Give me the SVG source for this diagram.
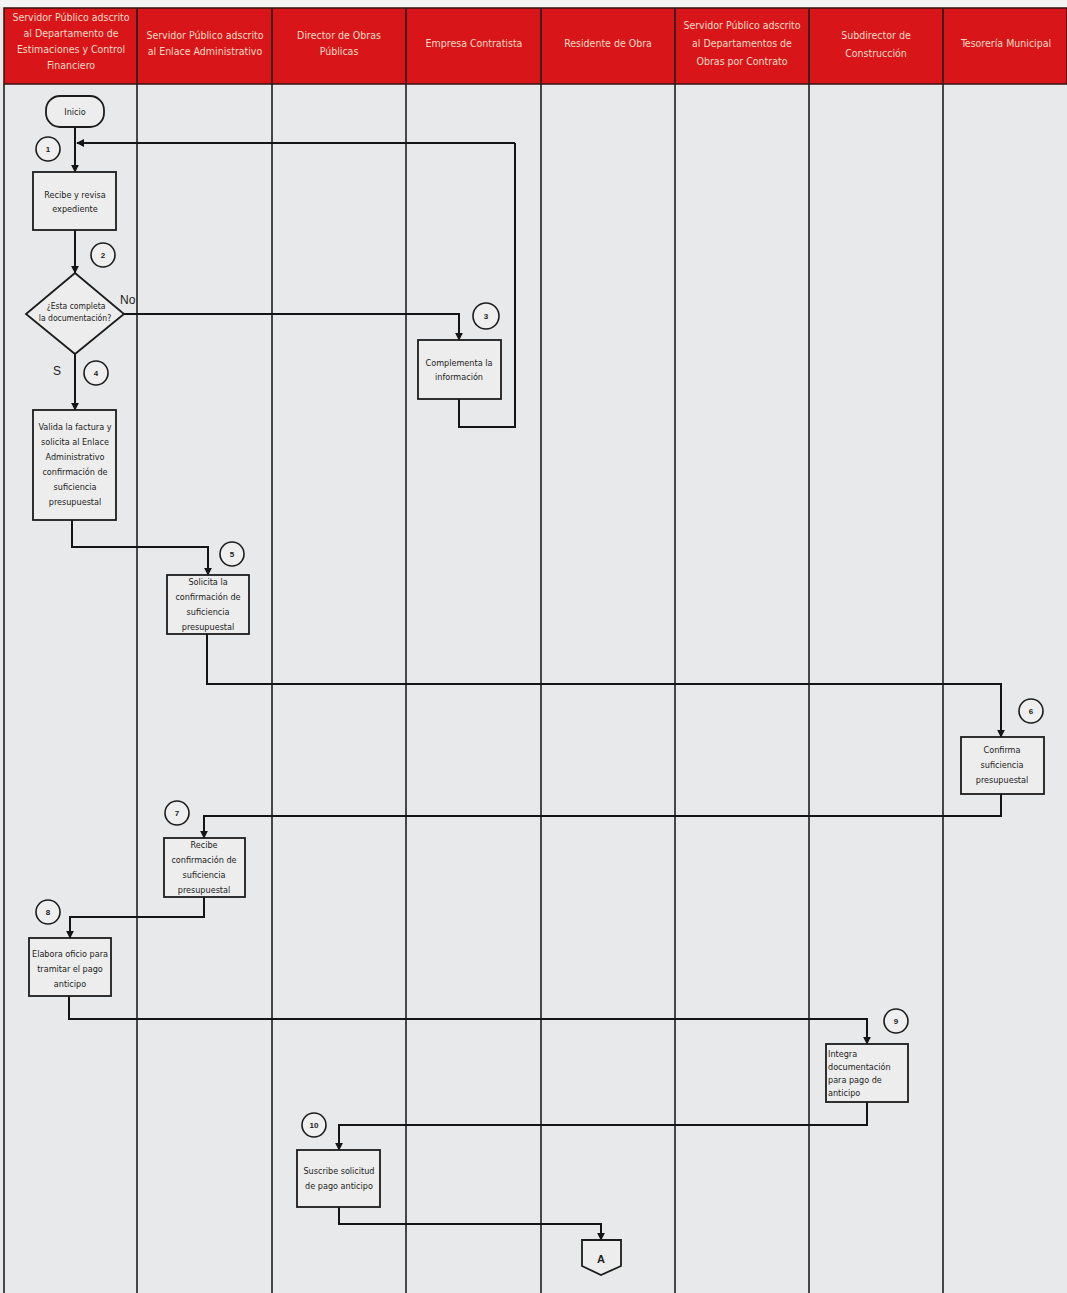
<svg xmlns="http://www.w3.org/2000/svg" width="1067" height="1293" viewBox="0 0 1067 1293">
<style>
.hd{font-family:"Liberation Sans Narrow","DejaVu Sans Condensed","Liberation Sans",sans-serif;font-size:10.5px;fill:#f7d9c4;text-anchor:middle}
.lane{stroke:#1e1e1e;stroke-width:1.6;fill:none}
.box{fill:#ededed;stroke:#1c1c1c;stroke-width:1.8}
.t{font-family:"Liberation Sans Narrow","DejaVu Sans Condensed","Liberation Sans",sans-serif;font-size:9px;fill:#222;text-anchor:middle}
.tl{font-family:"Liberation Sans Narrow","DejaVu Sans Condensed","Liberation Sans",sans-serif;font-size:9px;fill:#222}
.num{fill:#efefef;stroke:#1c1c1c;stroke-width:1.6}
.nt{font-family:"Liberation Sans","Arial",sans-serif;font-size:8px;font-weight:bold;fill:#222;text-anchor:middle}
.lbl{font-family:"Liberation Sans","Arial",sans-serif;font-size:12px;fill:#222}
.c{fill:none;stroke:#151515;stroke-width:2;marker-end:url(#ah)}
.cn{fill:none;stroke:#151515;stroke-width:2}
</style>
<defs>
<marker id="ah" viewBox="0 0 10 10" refX="9" refY="5" markerWidth="4" markerHeight="4" orient="auto" markerUnits="strokeWidth">
<path d="M0,0 L10,5 L0,10 z" fill="#151515"/>
</marker>
</defs>
<rect x="0" y="0" width="1067" height="1293" fill="#e8e9ea"/>
<rect x="0" y="0" width="1067" height="7" fill="#f4f4f4"/>
<g id="header">
<rect x="4" y="8" width="1063" height="76" fill="#d8161a" stroke="#3a1010" stroke-width="1.5"/>
<g class="lane">
<line x1="137" y1="8" x2="137" y2="84"/><line x1="272" y1="8" x2="272" y2="84"/><line x1="406" y1="8" x2="406" y2="84"/><line x1="541" y1="8" x2="541" y2="84"/><line x1="675" y1="8" x2="675" y2="84"/><line x1="809" y1="8" x2="809" y2="84"/><line x1="943" y1="8" x2="943" y2="84"/>
</g>
<text class="hd" x="71" y="21">Servidor Público adscrito</text>
<text class="hd" x="71" y="37">al Departamento de</text>
<text class="hd" x="71" y="53">Estimaciones y Control</text>
<text class="hd" x="71" y="69">Financiero</text>
<text class="hd" x="205" y="39">Servidor Público adscrito</text>
<text class="hd" x="205" y="55">al Enlace Administrativo</text>
<text class="hd" x="339" y="39">Director de Obras</text>
<text class="hd" x="339" y="55">Públicas</text>
<text class="hd" x="474" y="47">Empresa Contratista</text>
<text class="hd" x="608" y="47">Residente de Obra</text>
<text class="hd" x="742" y="29">Servidor Público adscrito</text>
<text class="hd" x="742" y="47">al Departamentos de</text>
<text class="hd" x="742" y="65">Obras por Contrato</text>
<text class="hd" x="876" y="39">Subdirector de</text>
<text class="hd" x="876" y="57">Construcción</text>
<text class="hd" x="1006" y="47">Tesorería Municipal</text>
</g>
<g id="lanes" class="lane">
<line x1="4" y1="84" x2="4" y2="1293"/>
<line x1="137" y1="84" x2="137" y2="1293"/>
<line x1="272" y1="84" x2="272" y2="1293"/>
<line x1="406" y1="84" x2="406" y2="1293"/>
<line x1="541" y1="84" x2="541" y2="1293"/>
<line x1="675" y1="84" x2="675" y2="1293"/>
<line x1="809" y1="84" x2="809" y2="1293"/>
<line x1="943" y1="84" x2="943" y2="1293"/>
</g>
<g id="connectors">
<path class="c" d="M75,127 V172"/>
<path class="c" d="M515,143 H77"/>
<path class="cn" d="M459,399 V427 H515 V143"/>
<path class="c" d="M75,230 V273"/>
<path class="c" d="M124,314 H459 V340"/>
<path class="c" d="M75,354 V410"/>
<path class="c" d="M72,520 V547 H208 V575"/>
<path class="c" d="M207,634 V684 H1001 V737"/>
<path class="c" d="M1001,794 V816 H204 V838"/>
<path class="c" d="M204,897 V917 H70 V938"/>
<path class="c" d="M69,996 V1019 H867 V1044"/>
<path class="c" d="M867,1102 V1125 H339 V1150"/>
<path class="c" d="M339,1207 V1224 H601 V1240"/>
</g>
<g id="inicio">
<rect class="box" x="46" y="96" width="58" height="31" rx="14"/>
<text class="t" x="75" y="115">Inicio</text>
</g>
<g id="n1">
<circle class="num" cx="48" cy="149" r="12"/><text class="nt" x="48" y="152">1</text>
<rect class="box" x="33" y="172" width="83" height="58"/>
<text class="t" x="75" y="198">Recibe y revisa</text>
<text class="t" x="75" y="212">expediente</text>
</g>
<g id="n2">
<circle class="num" cx="103" cy="255" r="12"/><text class="nt" x="103" y="258">2</text>
<path class="box" d="M75,273 L124,314 L75,354 L26,314 Z"/>
<text class="t" x="76" y="309" style="font-size:8.5px">¿Esta completa</text>
<text class="t" x="75" y="321" style="font-size:8.5px">la documentación?</text>
<text class="lbl" x="120" y="304">No</text>
<text class="lbl" x="53" y="375">S</text>
</g>
<g id="n3">
<circle class="num" cx="486" cy="316" r="13"/><text class="nt" x="486" y="319">3</text>
<rect class="box" x="418" y="340" width="83" height="59"/>
<text class="t" x="459" y="366">Complementa la</text>
<text class="t" x="459" y="380">información</text>
</g>
<g id="n4">
<circle class="num" cx="96" cy="373" r="12"/><text class="nt" x="96" y="376">4</text>
<rect class="box" x="33" y="410" width="83" height="110"/>
<text class="t" x="75" y="430">Valida la factura y</text>
<text class="t" x="75" y="445">solicita al Enlace</text>
<text class="t" x="75" y="460">Administrativo</text>
<text class="t" x="75" y="475">confirmación de</text>
<text class="t" x="75" y="490">suficiencia</text>
<text class="t" x="75" y="505">presupuestal</text>
</g>
<g id="n5">
<circle class="num" cx="232" cy="554" r="12"/><text class="nt" x="232" y="557">5</text>
<rect class="box" x="167" y="575" width="82" height="59"/>
<text class="t" x="208" y="585">Solicita la</text>
<text class="t" x="208" y="600">confirmación de</text>
<text class="t" x="208" y="615">suficiencia</text>
<text class="t" x="208" y="630">presupuestal</text>
</g>
<g id="n6">
<circle class="num" cx="1031" cy="711" r="12"/><text class="nt" x="1031" y="714">6</text>
<rect class="box" x="961" y="737" width="83" height="57"/>
<text class="t" x="1002" y="753">Confirma</text>
<text class="t" x="1002" y="768">suficiencia</text>
<text class="t" x="1002" y="783">presupuestal</text>
</g>
<g id="n7">
<circle class="num" cx="177" cy="813" r="12"/><text class="nt" x="177" y="816">7</text>
<rect class="box" x="164" y="838" width="81" height="59"/>
<text class="t" x="204" y="848">Recibe</text>
<text class="t" x="204" y="863">confirmación de</text>
<text class="t" x="204" y="878">suficiencia</text>
<text class="t" x="204" y="893">presupuestal</text>
</g>
<g id="n8">
<circle class="num" cx="48" cy="912" r="12"/><text class="nt" x="48" y="915">8</text>
<rect class="box" x="29" y="938" width="82" height="58"/>
<text class="t" x="70" y="957">Elabora oficio para</text>
<text class="t" x="70" y="972">tramitar el pago</text>
<text class="t" x="70" y="987">anticipo</text>
</g>
<g id="n9">
<circle class="num" cx="896" cy="1021" r="12"/><text class="nt" x="896" y="1024">9</text>
<rect class="box" x="826" y="1044" width="82" height="58"/>
<text class="tl" x="828" y="1057">Integra</text>
<text class="tl" x="828" y="1070">documentación</text>
<text class="tl" x="828" y="1083">para pago de</text>
<text class="tl" x="828" y="1096">anticipo</text>
</g>
<g id="n10">
<circle class="num" cx="314" cy="1125" r="12"/><text class="nt" x="314" y="1128">10</text>
<rect class="box" x="297" y="1150" width="83" height="57"/>
<text class="t" x="339" y="1174">Suscribe solicitud</text>
<text class="t" x="339" y="1189">de pago anticipo</text>
</g>
<g id="offpageA">
<path class="box" d="M582,1240 H621 V1266 L601,1275 L582,1266 Z"/>
<text class="nt" x="601" y="1263" style="font-size:11px">A</text>
</g>
</svg>
